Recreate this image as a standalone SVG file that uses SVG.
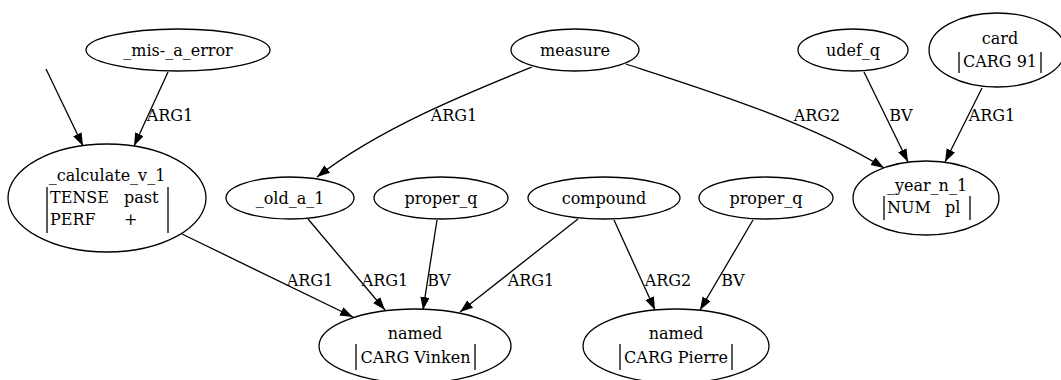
<svg xmlns="http://www.w3.org/2000/svg" width="1061" height="380" viewBox="0 0 1061 380">
  <style>
    text { font-family: "DejaVu Serif", "Liberation Serif", serif; font-size: 16px; fill: #000; }
    .c { text-anchor: middle; }
    .node ellipse { fill: #fff; stroke: #000; stroke-width: 1.3; }
    .bar { stroke: #000; stroke-width: 1.3; }
    .edges path { fill: none; stroke: #000; stroke-width: 1.3; marker-end: url(#arrow); }
  </style>
  <defs>
    <marker id="arrow" markerUnits="userSpaceOnUse" markerWidth="14" markerHeight="10" refX="13" refY="4.65" orient="auto">
      <path d="M0,0 L13,4.65 L0,9.3 z" fill="#000"/>
    </marker>
  </defs>
  <rect width="1061" height="380" fill="#fff"/>

  <!-- connectors -->
  <g id="edges" class="edges">
    <path d="M46,69 L83,146"/>
    <path d="M168,72 L134,146"/>
    <path d="M532,67 C470,92 380,128 317,177"/>
    <path d="M626,64 C700,88 810,122 884,168"/>
    <path d="M864,72 L908,162"/>
    <path d="M982,88 L945,162"/>
    <path d="M182,234 L353,317"/>
    <path d="M308,219 L385,310"/>
    <path d="M437,220 L423,310"/>
    <path d="M578,219 L460,312"/>
    <path d="M614,220 L655,310"/>
    <path d="M753,220 L700,310"/>
  </g>
  <g id="edge-labels">
    <text class="c" x="170" y="121">ARG1</text>
    <text class="c" x="454" y="121">ARG1</text>
    <text class="c" x="817" y="121">ARG2</text>
    <text class="c" x="901" y="121">BV</text>
    <text class="c" x="992" y="121">ARG1</text>
    <text class="c" x="310" y="286">ARG1</text>
    <text class="c" x="385" y="286">ARG1</text>
    <text class="c" x="439" y="286">BV</text>
    <text class="c" x="531" y="286">ARG1</text>
    <text class="c" x="668" y="286">ARG2</text>
    <text class="c" x="733" y="286">BV</text>
  </g>

  <!-- top rank -->
  <g id="mis_a_error" class="node">
    <ellipse cx="178" cy="50" rx="92" ry="21"/>
    <text class="c" x="178" y="56">_mis-_a_error</text>
  </g>
  <g id="measure" class="node">
    <ellipse cx="575" cy="50" rx="64" ry="21"/>
    <text class="c" x="575" y="56">measure</text>
  </g>
  <g id="udef_q" class="node">
    <ellipse cx="853" cy="50" rx="55" ry="21"/>
    <text class="c" x="853" y="56">udef_q</text>
  </g>
  <g id="card" class="node">
    <ellipse cx="997" cy="50" rx="68" ry="37"/>
    <text class="c" x="1000" y="44">card</text>
    <line class="bar" x1="959" y1="52" x2="959" y2="73"/>
    <line class="bar" x1="1041" y1="52" x2="1041" y2="73"/>
    <text class="c" x="1000" y="67">CARG 91</text>
  </g>

  <!-- middle rank -->
  <g id="calculate_v_1" class="node">
    <ellipse cx="107" cy="198" rx="99" ry="54"/>
    <text class="c" x="107" y="181">_calculate_v_1</text>
    <line class="bar" x1="47" y1="187" x2="47" y2="233"/>
    <line class="bar" x1="168" y1="187" x2="168" y2="233"/>
    <text x="50" y="203">TENSE</text>
    <text x="124" y="203">past</text>
    <text x="50" y="225">PERF</text>
    <text x="124" y="225">+</text>
  </g>
  <g id="old_a_1" class="node">
    <ellipse cx="290" cy="198" rx="64" ry="21"/>
    <text class="c" x="290" y="204">_old_a_1</text>
  </g>
  <g id="proper_q_1" class="node">
    <ellipse cx="441" cy="198" rx="67" ry="21"/>
    <text class="c" x="441" y="204">proper_q</text>
  </g>
  <g id="compound" class="node">
    <ellipse cx="604" cy="198" rx="76" ry="21"/>
    <text class="c" x="604" y="204">compound</text>
  </g>
  <g id="proper_q_2" class="node">
    <ellipse cx="766" cy="198" rx="67" ry="21"/>
    <text class="c" x="766" y="204">proper_q</text>
  </g>
  <g id="year_n_1" class="node">
    <ellipse cx="926" cy="198" rx="73" ry="37"/>
    <text class="c" x="927" y="191">_year_n_1</text>
    <line class="bar" x1="884" y1="196" x2="884" y2="220"/>
    <line class="bar" x1="970" y1="196" x2="970" y2="220"/>
    <text x="887" y="213">NUM</text>
    <text x="945" y="213">pl</text>
  </g>

  <!-- bottom rank -->
  <g id="named_vinken" class="node">
    <ellipse cx="415" cy="346" rx="96" ry="37"/>
    <text class="c" x="415" y="339">named</text>
    <line class="bar" x1="356" y1="344" x2="356" y2="370"/>
    <line class="bar" x1="475" y1="344" x2="475" y2="370"/>
    <text class="c" x="415.5" y="363">CARG Vinken</text>
  </g>
  <g id="named_pierre" class="node">
    <ellipse cx="676" cy="346" rx="93" ry="37"/>
    <text class="c" x="676" y="339">named</text>
    <line class="bar" x1="620" y1="344" x2="620" y2="370"/>
    <line class="bar" x1="732" y1="344" x2="732" y2="370"/>
    <text class="c" x="676" y="363">CARG Pierre</text>
  </g>
</svg>
